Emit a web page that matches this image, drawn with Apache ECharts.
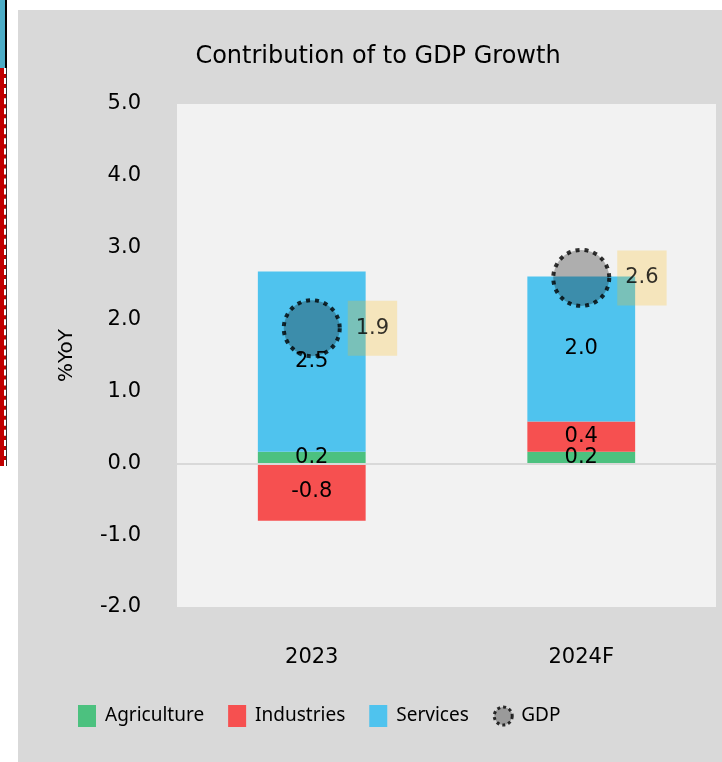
<!DOCTYPE html>
<html>
<head>
<meta charset="utf-8">
<script src="https://cdn.jsdelivr.net/npm/echarts@6/dist/echarts.min.js"></script>
<style>
  html, body { margin: 0; padding: 0; background: #fff; }
  #panel { position: absolute; left: 18px; top: 10px; width: 704px; height: 752px; background: #d9d9d9; }
  #blueBox { position: absolute; left: -2px; top: -2px; width: 5px; height: 68px; background: #4bacc6; border: 2px solid #000; }
  #redStrip { position: absolute; left: 0; top: 68px; width: 4px; height: 398px; background: #c00000; border-right: 2px dashed #fff; box-shadow: 1px 0 0 #333; }
  #chart { position: absolute; left: 0; top: 0; width: 722px; height: 762px; }
</style>
</head>
<body>
<div id="panel"></div>
<div id="blueBox"></div>
<div id="redStrip"></div>
<div id="chart"></div>
<script>
// 数据
const categories = ['2023', '2024F'];
const agriculture = [0.16, 0.16];
const industries = [-0.80, 0.42];
const services = [2.51, 2.02];
const gdp = [1.88, 2.58];
const yTicks = { min: -2, max: 5, interval: 1 };

const FONT = 'DejaVu Sans';
const fmt = p => Number(p.value).toFixed(1);

const chart = echarts.init(document.getElementById('chart'));

const barLabel = { show: true, position: 'inside', color: '#000', fontSize: 21, fontFamily: FONT, formatter: fmt };

const option = {
    backgroundColor: 'transparent',
    textStyle: { fontFamily: FONT },
    title: {
        text: 'Contribution of to GDP Growth',
        left: 373, top: 40, textAlign: 'center',
        textStyle: { fontSize: 24, fontWeight: 'normal', color: '#000', fontFamily: FONT }
    },
    legend: {
        left: 78, top: 705, padding: 0,
        itemWidth: 18, itemHeight: 22, itemGap: 24,
        textStyle: { fontSize: 19, color: '#000', fontFamily: 'Noto Sans', padding: [0, 0, 0, 4] },
        data: [
            { name: 'Agriculture', icon: 'rect' },
            { name: 'Industries', icon: 'rect' },
            { name: 'Services', icon: 'rect' },
            { name: 'GDP', icon: 'circle', itemStyle: { color: '#8a8a8a', borderColor: '#000', borderWidth: 3, borderType: [3, 3] } }
        ]
    },
    grid: { left: 177, top: 104, right: 6, bottom: 155, show: true, backgroundColor: '#f2f2f2', borderWidth: 0 },
    xAxis: {
        type: 'category',
        data: categories,
        axisLine: { show: false, onZero: false },
        axisTick: { show: false },
        axisLabel: { margin: 40, fontSize: 21, color: '#000', fontFamily: FONT }
    },
    yAxis: {
        type: 'value',
        min: yTicks.min, max: yTicks.max, interval: yTicks.interval,
        name: '%YoY', nameLocation: 'middle', nameGap: 100, nameRotate: 90,
        nameTextStyle: { fontSize: 20, color: '#000', fontFamily: FONT },
        axisLine: { show: false },
        axisTick: { show: false },
        splitLine: { show: false },
        axisLabel: { margin: 36, fontSize: 21, color: '#000', fontFamily: FONT, formatter: v => v.toFixed(1) }
    },
    series: [
        {
            name: 'Agriculture', type: 'bar', stack: 'total', data: agriculture,
            barWidth: '40%', itemStyle: { color: '#4cc17f' }, label: barLabel,
            markLine: {
                silent: true, symbol: 'none', label: { show: false },
                lineStyle: { color: '#d9d9d9', width: 2, type: 'solid' },
                data: [{ yAxis: 0 }]
            }
        },
        {
            name: 'Industries', type: 'bar', stack: 'total', data: industries,
            barWidth: '40%', itemStyle: { color: '#f65050' }, label: barLabel
        },
        {
            name: 'Services', type: 'bar', stack: 'total', data: services,
            barWidth: '40%', itemStyle: { color: '#4fc3ee' }, label: barLabel
        },
        {
            name: 'GDP', type: 'scatter', data: gdp, symbol: 'circle', symbolSize: 56, z: 5,
            itemStyle: { color: 'rgba(20,20,20,0.38)', borderColor: '#000', borderWidth: 4, borderType: [4, 5] },
            label: {
                show: true, position: 'right', distance: 6, formatter: fmt,
                fontSize: 21, color: '#000', fontFamily: FONT,
                backgroundColor: 'rgba(253,190,20,0.3)', padding: [17, 8]
            }
        }
    ]
};

chart.setOption(option);
</script>
</body>
</html>
